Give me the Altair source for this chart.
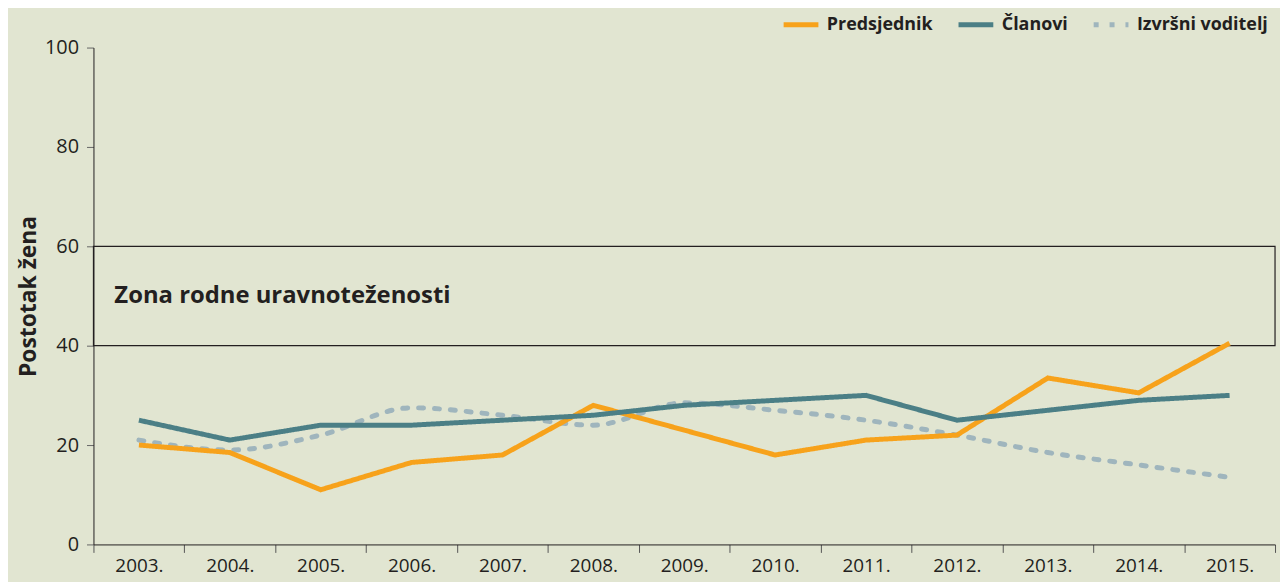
import altair as alt
import pandas as pd

years = ["2003.", "2004.", "2005.", "2006.", "2007.", "2008.", "2009.",
         "2010.", "2011.", "2012.", "2013.", "2014.", "2015."]
predsjednik = [20, 18.5, 11, 16.5, 18, 28, 23, 18, 21, 22, 33.5, 30.5, 40.5]
clanovi = [25, 21, 24, 24, 25, 26, 28, 29, 30, 25, 27, 29, 30]
izvrsni = [21, 19, 22, 27.5, 26, 24, 28.5, 27, 25, 22, 18.5, 16, 13.5]

series = ["Predsjednik", "Članovi", "Izvršni voditelj"]
colors = ["#f7a21b", "#4b7f86", "#9fb5bd"]
dashes = [[1, 0], [1, 0], [5, 11]]

zone_low, zone_high = 40, 60
zone_label = "Zona rodne uravnoteženosti"
y_title = "Postotak žena"

FONT = "Open Sans"
BG = "#e1e5d1"
INK = "#231f20"

rows = []
for name, vals in zip(series, [predsjednik, clanovi, izvrsni]):
    for yr, v in zip(years, vals):
        rows.append({"Godina": yr, "Vrijednost": v, "Serija": name})
df = pd.DataFrame(rows)

x_enc = alt.X("Godina:N", sort=years,
              scale=alt.Scale(type="band", domain=years, paddingInner=0, paddingOuter=0),
              axis=alt.Axis(title=None, tickBand="extent", labelAngle=0,
                            labelFontSize=19, labelFont=FONT, labelColor=INK,
                            tickSize=8, labelPadding=4, tickColor="#555",
                            domainColor=INK, grid=False))
y_enc = alt.Y("Vrijednost:Q", scale=alt.Scale(domain=[0, 100], nice=False),
              axis=alt.Axis(title=y_title, values=[0, 20, 40, 60, 80, 100],
                            titleFont=FONT, titleFontSize=23, titleFontWeight="bold",
                            titleColor=INK, titlePadding=4,
                            labelFont=FONT, labelFontSize=20, labelColor=INK,
                            tickSize=7, labelPadding=8, tickColor="#666",
                            domainColor=INK, grid=False))
color_enc = alt.Color("Serija:N", scale=alt.Scale(domain=series, range=colors),
                      legend=alt.Legend(title=None))
dash_enc = alt.StrokeDash("Serija:N", scale=alt.Scale(domain=series, range=dashes),
                          legend=alt.Legend(title=None))

zone_df = pd.DataFrame({"lo": [zone_low], "hi": [zone_high], "mid": [(zone_low + zone_high) / 2],
                        "label": [zone_label]})

zone = alt.Chart(zone_df).mark_rect(fill=None, stroke=INK, strokeWidth=1.2).encode(
    x=alt.value(0), x2=alt.value("width"),
    y=alt.Y("lo:Q", scale=alt.Scale(domain=[0, 100], nice=False)), y2="hi:Q")
zone_text = alt.Chart(zone_df).mark_text(align="left", baseline="middle", font=FONT,
                                         fontSize=24, fontWeight="bold", color=INK).encode(
    x=alt.value(21), y=alt.Y("mid:Q", scale=alt.Scale(domain=[0, 100], nice=False)),
    text="label:N")

solid = alt.Chart(df).transform_filter(
    alt.FieldOneOfPredicate(field="Serija", oneOf=series[:2])
).mark_line(strokeWidth=5, strokeCap="butt", strokeJoin="miter").encode(
    x=x_enc, y=y_enc, color=color_enc, strokeDash=dash_enc)
dashed = alt.Chart(df).transform_filter(
    alt.FieldEqualPredicate(field="Serija", equal=series[2])
).mark_line(strokeWidth=5, strokeCap="round", interpolate="monotone").encode(
    x=x_enc, y=y_enc, color=color_enc, strokeDash=dash_enc)

chart = alt.layer(zone, dashed, solid, zone_text).properties(
    width=1189, height=500,
    background=BG,
    padding={"left": 86, "top": 38, "right": 5, "bottom": 36},
    autosize=alt.AutoSizeParams(type="none"),
).configure_view(stroke=None).configure_legend(
    orient="none", legendX=692, legendY=-43, direction="horizontal",
    labelFont=FONT, labelFontSize=18, labelFontWeight="bold", labelColor=INK,
    symbolType="stroke", symbolSize=1225, symbolStrokeWidth=5,
    columnPadding=15, labelOffset=6, padding=0,
)

chart.save("out.html", embed_options={"renderer": "svg", "actions": False})
